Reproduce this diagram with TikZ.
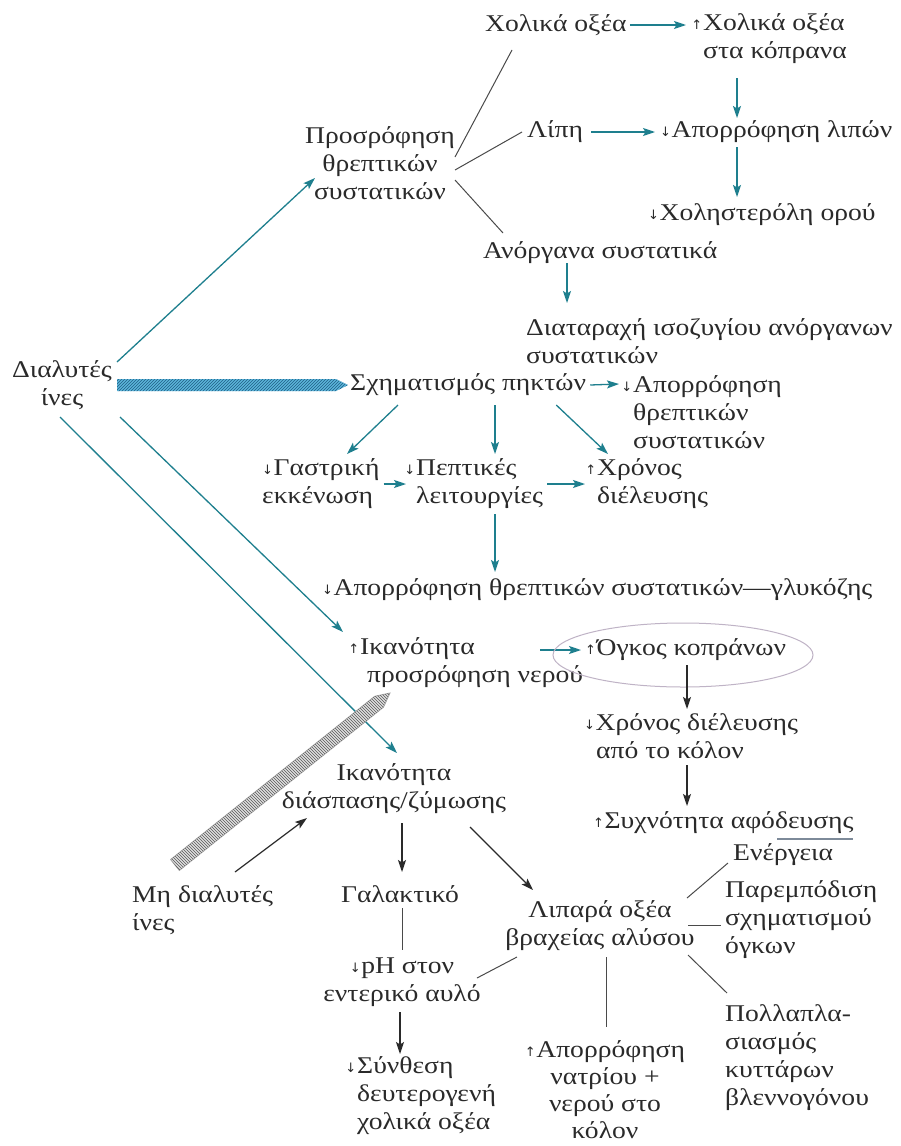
\documentclass[tikz,border=0pt]{standalone}
\usepackage{fontspec}
\setmainfont[FakeStretch=1.15]{Liberation Serif}
\newfontfamily\arrfont{DejaVu Sans}
\usetikzlibrary{arrows.meta,patterns,calc}
\definecolor{tealc}{HTML}{1E7F8E}
\definecolor{txt}{HTML}{2A2A2A}
\definecolor{hatchblue}{HTML}{5DB6DA}
\definecolor{hatchdark}{HTML}{1F5F86}
\definecolor{ellc}{HTML}{BFB3C6}
\definecolor{ulc}{HTML}{7D8A99}
\newcommand\mydn{{\arrfont\fontsize{13}{13}\selectfont\raisebox{1pt}{↓}}\kern0.5pt}
\newcommand\myup{{\arrfont\fontsize{13}{13}\selectfont\raisebox{1pt}{↑}}\kern0.5pt}
\newcommand\hmydn{\llap{\mydn\kern0.5pt}}
\newcommand\hmyup{\llap{\myup\kern0.5pt}}
\begin{document}
\begin{tikzpicture}[x=1pt,y=-1pt,
  every node/.style={inner sep=0pt, text=txt, font=\fontsize{24}{28}\selectfont},
  tl/.style={draw=tealc, line width=1.3pt, -{Stealth[length=12pt,width=8pt,inset=2.5pt]}},
  bl/.style={draw=txt, line width=1.2pt, -{Stealth[length=12pt,width=8pt,inset=2.5pt]}},
  pl/.style={draw=txt!85, line width=1pt}]
\fill[white] (0,0) rectangle (900,1146);
\useasboundingbox (0,0) rectangle (900,1146);

% nodes
\node[anchor=west] (chol) at (485,25) {Χολικά οξέα};
\node[anchor=west, align=left] (chol2) at (703,39) {\hmyup Χολικά οξέα\\στα κόπρανα};
\node[anchor=west] (lipi) at (527,132) {Λίπη};
\node[anchor=west] (apl) at (660,132) {\mydn Απορρόφηση λιπών};
\node[anchor=west] (chl) at (648,215) {\mydn Χοληστερόλη ορού};
\node[align=center] (pros) at (380,163) {Προσρόφηση\\θρεπτικών\\συστατικών};
\node[anchor=west] (anorg) at (483,253) {Ανόργανα συστατικά};
\node[anchor=west, align=left] (diat) at (526,341) {Διαταραχή ισοζυγίου ανόργανων\\συστατικών};
\node[align=center] (dial) at (62,385) {Διαλυτές\\ίνες};
\node[anchor=west] (schim) at (350,385) {Σχηματισμός πηκτών};
\node[anchor=west, align=left] (apo2) at (633,412) {\hmydn Απορρόφηση\\θρεπτικών\\συστατικών};
\node[anchor=west, align=left] (gastr) at (262,484) {\mydn Γαστρική\\εκκένωση};
\node[anchor=west, align=left] (pept) at (416,484) {\hmydn Πεπτικές\\λειτουργίες};
\node[anchor=west, align=left] (chron) at (597,484) {\hmyup Χρόνος\\διέλευσης};
\node[anchor=west] (gluc) at (322,590) {\mydn Απορρόφηση θρεπτικών συστατικών—γλυκόζης};
\node[anchor=west, align=left] (ikan) at (360,663) {\hmyup Ικανότητα\\\hspace*{7pt}προσρόφηση νερού};
\node[anchor=west] (ogkos) at (585,650) {\myup Όγκος κοπράνων};
\node[anchor=west, align=left] (chronk) at (584,736) {\mydn Χρόνος διέλευσης\\\hspace*{12pt}από το κόλον};
\node[anchor=west] (sychn) at (593,823) {\myup Συχνότητα αφόδευσης};
\node[align=center] (ikdias) at (394,789) {Ικανότητα\\διάσπασης/ζύμωσης};
\node[anchor=west, align=left] (minon) at (132,910) {Μη διαλυτές\\ίνες};
\node (galakt) at (400,894) {Γαλακτικό};
\node[align=center] (lipara) at (600,926) {Λιπαρά οξέα\\βραχείας αλύσου};
\node[align=center] (ph) at (402,982) {\mydn pH στον\\εντερικό αυλό};
\node[anchor=west, align=left] (synth) at (357,1096) {\hmydn Σύνθεση\\δευτερογενή\\χολικά οξέα};
\node[align=center, font=\fontsize{24}{27}\selectfont] (aponat) at (605,1090) {\myup Απορρόφηση\\νατρίου +\\νερού στο\\κόλον};
\node[anchor=west] (energ) at (733,855) {Ενέργεια};
\node[anchor=west, align=left] (parem) at (725,920) {Παρεμπόδιση\\σχηματισμού\\όγκων};
\node[anchor=west, align=left] (pollap) at (725,1058) {Πολλαπλα-\\σιασμός\\κυττάρων\\βλεννογόνου};

% top part
\draw[tl] ([shift={(55,-23)}]dial.center) -- ([shift={(-65,15)}]pros.center);
\draw[pl] ([shift={(75,-6)}]pros.center) -- ([shift={(27,25)}]chol.west);
\draw[pl] ([shift={(75,7)}]pros.center) -- ([shift={(-5,0)}]lipi.west);
\draw[pl] ([shift={(75,17)}]pros.center) -- ([shift={(20,-20)}]anorg.west);
\draw[tl] ([xshift=3]chol.east) -- ([shift={(-17,-14)}]chol2.west);
\draw[tl] ([shift={(34,39)}]chol2.west) -- ([shift={(77,-14)}]apl.west);
\draw[tl] ([xshift=8]lipi.east) -- ([xshift=-5]apl.west);
\draw[tl] ([shift={(77,15)}]apl.west) -- ([shift={(89,-18)}]chl.west);
\draw[tl] ([shift={(84,10)}]anorg.west) -- ([shift={(41,-38)}]diat.west);

% blue hatched arrow
\coordinate (bA) at ([xshift=55]dial.center);
\coordinate (bB) at ([xshift=-2]schim.west);
\path[fill=hatchblue, postaction={pattern=north east lines, pattern color=hatchdark}]
  ([shift={(0,-6)}]bA) -- ([shift={(-12,-6)}]bB) -- (bB) -- ([shift={(-12,6)}]bB) -- ([shift={(0,6)}]bA) -- cycle;

% middle part
\draw[tl] ([xshift=4]schim.east) -- ([shift={(-14,-28)}]apo2.west);
\draw[tl] ([shift={(48,20)}]schim.west) -- ([shift={(85,-30)}]gastr.west);
\draw[tl] ([shift={(145,20)}]schim.west) -- ([shift={(79,-30)}]pept.west);
\draw[tl] ([shift={(-30,20)}]schim.east) -- ([shift={(11,-30)}]chron.west);
\draw[tl] ([xshift=4]gastr.east) -- ([xshift=-10]pept.west);
\draw[tl] ([xshift=4]pept.east) -- ([xshift=-12]chron.west);
\draw[tl] ([shift={(79,30)}]pept.west) -- ([shift={(173,-18)}]gluc.west);
\draw[tl] ([shift={(58,32)}]dial.center) -- ([shift={(-17,-31)}]ikan.west);
\draw[tl] ([shift={(-2,32)}]dial.center) -- ([shift={(3,-36)}]ikdias.center);
\draw[tl] ([shift={(180,-13)}]ikan.west) -- ([xshift=-4]ogkos.west);
\draw[ellc, line width=1pt] ([shift={(98,5)}]ogkos.west) ellipse [x radius=130pt, y radius=32pt];
\draw[bl] ([shift={(102,15)}]ogkos.west) -- ([shift={(103,-27)}]chronk.west);
\draw[bl] ([shift={(103,29)}]chronk.west) -- ([shift={(94,-17)}]sychn.west);
\draw[ulc, line width=2.5pt] ([shift={(184,16)}]sychn.west) -- ([shift={(260,16)}]sychn.west);

% gray hatched arrow
\coordinate (gA) at ([shift={(43,-45)}]minon.west);
\coordinate (gB) at ([shift={(30,30)}]ikan.west);
\coordinate (gC) at ($(gB)!14pt!(gA)$);
\path[fill=gray!25, draw=gray!70, line width=0.8pt, postaction={pattern=north west lines, pattern color=gray!70!black}]
  ($(gA)!7pt!90:(gB)$) -- ($(gC)!7pt!-90:(gA)$) -- (gB) -- ($(gC)!7pt!90:(gA)$) -- ($(gA)!7pt!-90:(gB)$) -- cycle;

% bottom part
\draw[bl] ([shift={(103,-38)}]minon.west) -- ([shift={(-87,29)}]ikdias.center);
\draw[bl] ([shift={(8,34)}]ikdias.center) -- ([shift={(2,-22)}]galakt.center);
\draw[bl] ([shift={(76,38)}]ikdias.center) -- ([shift={(-67,-36)}]lipara.center);
\draw[pl] ([shift={(2,14)}]galakt.center) -- ([shift={(0,-32)}]ph.center);
\draw[bl] ([shift={(-2,30)}]ph.center) -- ([shift={(43,-42)}]synth.west);
\draw[pl] ([shift={(-83,31)}]lipara.center) -- ([shift={(75,-4)}]ph.center);
\draw[pl] ([shift={(6,31)}]lipara.center) -- ([shift={(1,-63)}]aponat.center);
\draw[pl] ([shift={(87,-28)}]lipara.center) -- ([shift={(-5,8)}]energ.west);
\draw[pl] ([shift={(88,-1)}]lipara.center) -- ([shift={(-4,5)}]parem.west);
\draw[pl] ([shift={(88,29)}]lipara.center) -- ([shift={(2,-65)}]pollap.west);
\end{tikzpicture}
\end{document}
